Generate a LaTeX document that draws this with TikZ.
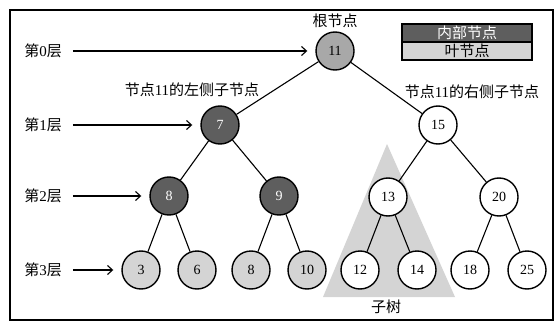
\documentclass[tikz,border=0pt]{standalone}
\usepackage{fontspec}
\setmainfont{Liberation Serif}
\newfontfamily\cjk{Noto Sans CJK SC}
\usetikzlibrary{arrows.meta}
\definecolor{darknode}{HTML}{5E5E5E}
\definecolor{rootgray}{HTML}{A8A8A8}
\definecolor{leafgray}{HTML}{D4D4D4}
\tikzset{
  tn/.style={circle, draw=black, line width=1.4pt, minimum size=38pt, inner sep=0pt, font=\fontsize{14}{16}\selectfont},
  inner/.style={tn, fill=darknode, text=white},
  rootn/.style={tn, fill=rootgray},
  leaf/.style={tn, fill=leafgray},
  plain/.style={tn, fill=white},
  edge/.style={line width=1.1pt},
  lbl/.style={font=\fontsize{15}{17}\selectfont, inner sep=1pt},
  arr/.style={line width=1.1pt, -{Straight Barb[length=5pt,width=9pt,line width=1.1pt]}, shorten >=8pt},
  legendbox/.style={draw=black, line width=1.4pt, minimum width=130pt, minimum height=18pt, inner sep=0pt, font=\fontsize{15}{17}\selectfont\cjk},
}
\begin{document}
\begin{tikzpicture}[x=1pt,y=-1pt]
\useasboundingbox (0,0) rectangle (559,326);
\draw[line width=1.5pt] (10,10) rectangle (553,320);
% subtree triangle
\fill[leafgray] (387,144) -- (455,297) -- (323,297) -- cycle;
\node[lbl] (sub) at (386,307) {\cjk 子树};
% nodes
\node[rootn] (n11) at (335,51) {11};
\node[inner] (n7) at (220,125) {7};
\node[plain] (n15) at (438,125) {15};
\node[inner] (n8) at (169,196) {8};
\node[inner] (n9) at (279,196) {9};
\node[plain] (n13) at (388,197) {13};
\node[plain] (n20) at (499,197) {20};
\node[leaf] (l3) at (141,270) {3};
\node[leaf] (l6) at (197,270) {6};
\node[leaf] (l8) at (251,270) {8};
\node[leaf] (l10) at (307,270) {10};
\node[plain] (l12) at (360,270) {12};
\node[plain] (l14) at (417,270) {14};
\node[plain] (l18) at (470,270) {18};
\node[plain] (l25) at (527,270) {25};
% edges
\draw[edge] (n11) -- (n7);
\draw[edge] (n11) -- (n15);
\draw[edge] (n7) -- (n8);
\draw[edge] (n7) -- (n9);
\draw[edge] (n15) -- (n13);
\draw[edge] (n15) -- (n20);
\draw[edge] (n8) -- (l3);
\draw[edge] (n8) -- (l6);
\draw[edge] (n9) -- (l8);
\draw[edge] (n9) -- (l10);
\draw[edge] (n13) -- (l12);
\draw[edge] (n13) -- (l14);
\draw[edge] (n20) -- (l18);
\draw[edge] (n20) -- (l25);
% labels
\node[lbl] (root) at (335,21) {\cjk 根节点};
\node[lbl] (leftc) at (192,90) {{\cjk 节点}11{\cjk 的左侧子节点}};
\node[lbl] (rightc) at (472,92) {{\cjk 节点}11{\cjk 的右侧子节点}};
% level labels and arrows
\node[lbl] (L0) at (43,51) {{\cjk 第}0{\cjk 层}};
\node[lbl] (L1) at (43,125) {{\cjk 第}1{\cjk 层}};
\node[lbl] (L2) at (43,196) {{\cjk 第}2{\cjk 层}};
\node[lbl] (L3) at (43,270) {{\cjk 第}3{\cjk 层}};
\draw[arr] ([xshift=10pt]L0.east) -- (n11.west);
\draw[arr] ([xshift=10pt]L1.east) -- (n7.west);
\draw[arr] ([xshift=10pt]L2.east) -- (n8.west);
\draw[arr] ([xshift=10pt]L3.east) -- (l3.west);
% legend
\node[legendbox, fill=darknode, text=white] (leg1) at (467,33) {内部节点};
\node[legendbox, fill=leafgray, text=black] (leg2) at (467,51) {叶节点};
\end{tikzpicture}
\end{document}
